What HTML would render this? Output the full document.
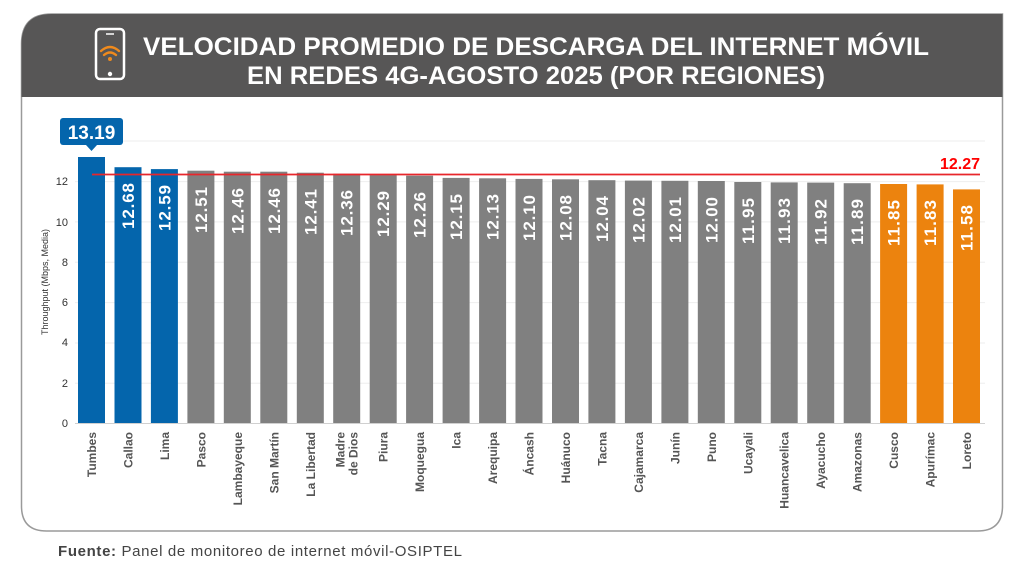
<!DOCTYPE html>
<html><head><meta charset="utf-8"><style>
html,body{margin:0;padding:0;background:#fff;}
svg{display:block;font-family:"Liberation Sans",sans-serif;}
</style></head><body>
<svg width="1024" height="576" viewBox="0 0 1024 576" xmlns="http://www.w3.org/2000/svg">
<path d="M21.5,97 V44 Q21.5,14 51.5,14 H1002.5 V506 Q1002.5,531 977.5,531 H46.5 Q21.5,531 21.5,506 Z" fill="#fff" stroke="#9a9a9a" stroke-width="1.5"/>
<path d="M21.5,97 V44 Q21.5,14 51.5,14 H1002.5 V97 Z" fill="#575656"/>
<rect x="96" y="29" width="28" height="50" rx="4" fill="none" stroke="#fff" stroke-width="2.5"/>
<circle cx="110" cy="74" r="2.2" fill="#fff"/>
<line x1="106" y1="34" x2="114" y2="34" stroke="#fff" stroke-width="1.5"/>
<g fill="none" stroke="#f08a1c" stroke-width="2.4" stroke-linecap="round">
<path d="M101,51 Q110,43 119,51"/><path d="M104,55 Q110,50 116,55"/></g>
<circle cx="110" cy="59" r="2" fill="#f08a1c"/>
<text x="536" y="55" text-anchor="middle" font-size="25" font-weight="bold" fill="#fff" textLength="786" lengthAdjust="spacingAndGlyphs">VELOCIDAD PROMEDIO DE DESCARGA DEL INTERNET MÓVIL</text>
<text x="536" y="84" text-anchor="middle" font-size="25" font-weight="bold" fill="#fff" textLength="578" lengthAdjust="spacingAndGlyphs">EN REDES 4G-AGOSTO 2025 (POR REGIONES)</text>
<g stroke="#eeeeee" stroke-width="1">
<line x1="75" x2="985" y1="141" y2="141"/><line x1="75" x2="985" y1="181.6" y2="181.6"/><line x1="75" x2="985" y1="221.9" y2="221.9"/><line x1="75" x2="985" y1="262.3" y2="262.3"/><line x1="75" x2="985" y1="302.6" y2="302.6"/><line x1="75" x2="985" y1="343" y2="343"/><line x1="75" x2="985" y1="383.3" y2="383.3"/>
</g>
<line x1="75" x2="985" y1="423.5" y2="423.5" stroke="#d0d0d0"/>
<g font-size="11" fill="#333" text-anchor="end">
<text x="68" y="427">0</text><text x="68" y="387">2</text><text x="68" y="346">4</text><text x="68" y="306">6</text><text x="68" y="266">8</text><text x="68" y="226">10</text><text x="68" y="185">12</text>
</g>
<text transform="translate(48,282) rotate(-90)" text-anchor="middle" font-size="9" fill="#333">Throughput (Mbps, Media)</text>
<g>
<rect x="78" y="157" width="27" height="266" fill="#0465ac"/>
<rect x="114.5" y="167.2" width="27" height="255.8" fill="#0465ac"/>
<rect x="150.9" y="169.1" width="27" height="253.9" fill="#0465ac"/>
<rect x="187.4" y="170.7" width="27" height="252.3" fill="#808080"/>
<rect x="223.8" y="171.7" width="27" height="251.3" fill="#808080"/>
<rect x="260.3" y="171.7" width="27" height="251.3" fill="#808080"/>
<rect x="296.8" y="172.7" width="27" height="250.3" fill="#808080"/>
<rect x="333.2" y="173.7" width="27" height="249.3" fill="#808080"/>
<rect x="369.7" y="175.1" width="27" height="247.9" fill="#808080"/>
<rect x="406.1" y="175.7" width="27" height="247.3" fill="#808080"/>
<rect x="442.6" y="177.9" width="27" height="245.1" fill="#808080"/>
<rect x="479.1" y="178.3" width="27" height="244.7" fill="#808080"/>
<rect x="515.5" y="178.9" width="27" height="244.1" fill="#808080"/>
<rect x="552" y="179.3" width="27" height="243.7" fill="#808080"/>
<rect x="588.4" y="180.2" width="27" height="242.8" fill="#808080"/>
<rect x="624.9" y="180.6" width="27" height="242.4" fill="#808080"/>
<rect x="661.4" y="180.8" width="27" height="242.2" fill="#808080"/>
<rect x="697.8" y="181" width="27" height="242" fill="#808080"/>
<rect x="734.3" y="182" width="27" height="241" fill="#808080"/>
<rect x="770.7" y="182.4" width="27" height="240.6" fill="#808080"/>
<rect x="807.2" y="182.6" width="27" height="240.4" fill="#808080"/>
<rect x="843.7" y="183.2" width="27" height="239.8" fill="#808080"/>
<rect x="880.1" y="184" width="27" height="239" fill="#ec830e"/>
<rect x="916.6" y="184.4" width="27" height="238.6" fill="#ec830e"/>
<rect x="953" y="189.4" width="27" height="233.6" fill="#ec830e"/>
</g>
<g font-size="17" font-weight="bold" fill="#fff" text-anchor="end">
<text transform="translate(134,183) rotate(-90)" textLength="46">12.68</text>
<text transform="translate(170.4,185) rotate(-90)" textLength="46">12.59</text>
<text transform="translate(206.9,187) rotate(-90)" textLength="46">12.51</text>
<text transform="translate(243.3,188) rotate(-90)" textLength="46">12.46</text>
<text transform="translate(279.8,188) rotate(-90)" textLength="46">12.46</text>
<text transform="translate(316.3,189) rotate(-90)" textLength="46">12.41</text>
<text transform="translate(352.7,190) rotate(-90)" textLength="46">12.36</text>
<text transform="translate(389.2,191) rotate(-90)" textLength="46">12.29</text>
<text transform="translate(425.6,192) rotate(-90)" textLength="46">12.26</text>
<text transform="translate(462.1,194) rotate(-90)" textLength="46">12.15</text>
<text transform="translate(498.6,194) rotate(-90)" textLength="46">12.13</text>
<text transform="translate(535,195) rotate(-90)" textLength="46">12.10</text>
<text transform="translate(571.5,195) rotate(-90)" textLength="46">12.08</text>
<text transform="translate(607.9,196) rotate(-90)" textLength="46">12.04</text>
<text transform="translate(644.4,197) rotate(-90)" textLength="46">12.02</text>
<text transform="translate(680.9,197) rotate(-90)" textLength="46">12.01</text>
<text transform="translate(717.3,197) rotate(-90)" textLength="46">12.00</text>
<text transform="translate(753.8,198) rotate(-90)" textLength="46">11.95</text>
<text transform="translate(790.2,198) rotate(-90)" textLength="46">11.93</text>
<text transform="translate(826.7,199) rotate(-90)" textLength="46">11.92</text>
<text transform="translate(863.2,199) rotate(-90)" textLength="46">11.89</text>
<text transform="translate(899.6,200) rotate(-90)" textLength="46">11.85</text>
<text transform="translate(936.1,200) rotate(-90)" textLength="46">11.83</text>
<text transform="translate(972.5,205) rotate(-90)" textLength="46">11.58</text>
</g>
<line x1="92" x2="980" y1="174.5" y2="174.5" stroke="#e8262b" stroke-width="1.8"/>
<text x="980" y="169" text-anchor="end" font-size="16" font-weight="bold" fill="#f00">12.27</text>
<rect x="60" y="118" width="63" height="27" rx="3" fill="#0465ac"/>
<path d="M86,145 L91.5,151 L97,145 Z" fill="#0465ac"/>
<text x="91.5" y="139" text-anchor="middle" font-size="19" font-weight="bold" fill="#fff">13.19</text>
<g font-size="12" font-weight="bold" fill="#555" text-anchor="end">
<text transform="translate(96,432) rotate(-90)">Tumbes</text>
<text transform="translate(132.5,432) rotate(-90)">Callao</text>
<text transform="translate(168.9,432) rotate(-90)">Lima</text>
<text transform="translate(205.4,432) rotate(-90)">Pasco</text>
<text transform="translate(241.8,432) rotate(-90)">Lambayeque</text>
<text transform="translate(278.3,432) rotate(-90)">San Martín</text>
<text transform="translate(314.8,432) rotate(-90)">La Libertad</text>
<text transform="translate(344.5,432) rotate(-90)">Madre</text>
<text transform="translate(357.5,432) rotate(-90)">de Dios</text>
<text transform="translate(387.7,432) rotate(-90)">Piura</text>
<text transform="translate(424.1,432) rotate(-90)">Moquegua</text>
<text transform="translate(460.6,432) rotate(-90)">Ica</text>
<text transform="translate(497.1,432) rotate(-90)">Arequipa</text>
<text transform="translate(533.5,432) rotate(-90)">Áncash</text>
<text transform="translate(570,432) rotate(-90)">Huánuco</text>
<text transform="translate(606.4,432) rotate(-90)">Tacna</text>
<text transform="translate(642.9,432) rotate(-90)">Cajamarca</text>
<text transform="translate(679.4,432) rotate(-90)">Junín</text>
<text transform="translate(715.8,432) rotate(-90)">Puno</text>
<text transform="translate(752.3,432) rotate(-90)">Ucayali</text>
<text transform="translate(788.7,432) rotate(-90)">Huancavelica</text>
<text transform="translate(825.2,432) rotate(-90)">Ayacucho</text>
<text transform="translate(861.7,432) rotate(-90)">Amazonas</text>
<text transform="translate(898.1,432) rotate(-90)">Cusco</text>
<text transform="translate(934.6,432) rotate(-90)">Apurímac</text>
<text transform="translate(971,432) rotate(-90)">Loreto</text>
</g>
<text x="58" y="556" font-size="15" fill="#444" textLength="404"><tspan font-weight="bold">Fuente:</tspan> Panel de monitoreo de internet móvil-OSIPTEL</text>
</svg>
</body></html>
